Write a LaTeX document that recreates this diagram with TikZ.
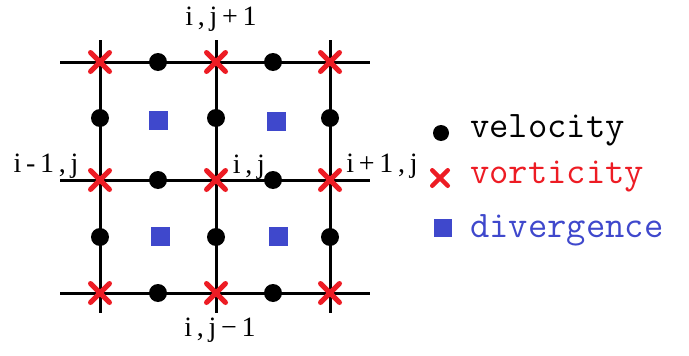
\documentclass[tikz,border=0pt]{standalone}
\usepackage{fontspec}
\newfontfamily\idxfont[LetterSpace=17]{Liberation Serif}
\usetikzlibrary{positioning,shapes.misc}

\definecolor{vortred}{RGB}{237,28,36}
\definecolor{divblue}{RGB}{63,72,204}

\tikzset{
  gridline/.style={line width=3pt, black},
  veldot/.style={circle, fill=black, inner sep=0pt, minimum size=18pt},
  vortcross/.style={cross out, draw=vortred, line width=5pt, line cap=round, inner sep=0pt, minimum size=14pt},
  divsquare/.style={rectangle, fill=divblue, inner sep=0pt, minimum size=19pt},
  idxlabel/.style={font=\idxfont\fontsize{28}{28}\selectfont, inner sep=0pt, anchor=base},
  legendtext/.style={font=\ttfamily\fontsize{37.5}{37.5}\selectfont, inner sep=0pt, anchor=base west}
}

\begin{document}
\begin{tikzpicture}[x=1pt, y=-1pt]
  \useasboundingbox (0,0) rectangle (689,356);
  % grid points
  \foreach \c/\x in {0/100,1/216,2/330}{
    \foreach \r/\y in {0/62,1/180,2/293}
      \coordinate (p\c\r) at (\x,\y);
    \coordinate (t\c) at (\x,40);
    \coordinate (b\c) at (\x,313);
  }
  \foreach \r/\y in {0/62,1/180,2/293}{
    \coordinate (l\r) at (60,\y);
    \coordinate (r\r) at (370,\y);
  }
  % grid lines
  \foreach \i in {0,1,2}{
    \draw[gridline] (t\i) -- (b\i);
    \draw[gridline] (l\i) -- (r\i);
  }
  % divergence points
  \node[divsquare] (d00) at (158,120) {};
  \node[divsquare] (d10) at (276,121) {};
  \node[divsquare] (d01) at (160,236) {};
  \node[divsquare] (d11) at (278,236) {};
  % velocity points
  \foreach \x [count=\c from 0] in {158,273}
    \foreach \y [count=\r from 0] in {62,180,293}
      \node[veldot] (u\c\r) at (\x,\y) {};
  \foreach \x [count=\c from 0] in {100,216,330}
    \foreach \y [count=\r from 0] in {118,237}
      \node[veldot] (v\c\r) at (\x,\y) {};
  % vorticity points
  \foreach \c in {0,1,2}
    \foreach \r in {0,1,2}
      \node[vortcross] (w\c\r) at (p\c\r) {};
  % indices
  \node[idxlabel] (lbltop) at (221,25) {i,j+1};
  \node[idxlabel] (lblleft) at (46,172) {i-1,j};
  \node[idxlabel] (lblmid) at (249,173) {i,j};
  \node[idxlabel] (lblright) at (382,172) {i+1,j};
  \node[idxlabel] (lblbot) at (220,336) {i,j−1};
  % legend
  \node[veldot, minimum size=16pt] (keyvel) at (441,133) {};
  \node[vortcross, minimum size=11pt, line width=4.5pt] (keyvort) at (440,178) {};
  \node[divsquare, minimum size=18pt] (keydiv) at (443,228) {};
  \node[legendtext] (txtvel) at (470,137) {velocity};
  \node[legendtext, text=vortred] (txtvort) at (470,183) {vorticity};
  \node[legendtext, text=divblue] (txtdiv) at (470,237) {divergence};
\end{tikzpicture}
\end{document}
